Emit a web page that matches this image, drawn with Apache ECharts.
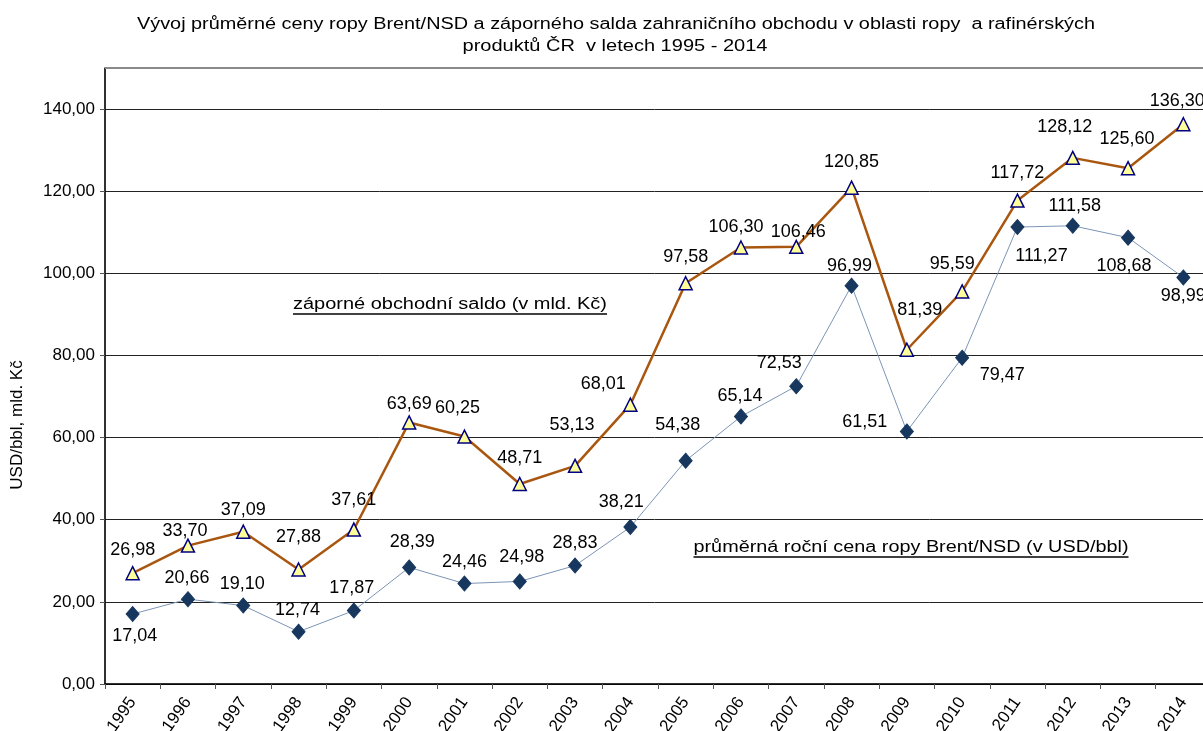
<!DOCTYPE html>
<html>
<head>
<meta charset="utf-8">
<script src="https://cdn.jsdelivr.net/npm/echarts@6/dist/echarts.min.js"></script>
<style>
	html, body { margin: 0; padding: 0; background: #fff; }
	#chart { width: 1203px; height: 731px; }
</style>
</head>
<body>
<div id="chart"></div>
<script>
	var years = ['1995', '1996', '1997', '1998', '1999', '2000', '2001', '2002', '2003', '2004',
		'2005', '2006', '2007', '2008', '2009', '2010', '2011', '2012', '2013', '2014'];
	// záporné obchodní saldo (mld. Kč)
	var saldo = [26.98, 33.70, 37.09, 27.88, 37.61, 63.69, 60.25, 48.71, 53.13, 68.01,
		97.58, 106.30, 106.46, 120.85, 81.39, 95.59, 117.72, 128.12, 125.60, 136.30];
	// průměrná roční cena ropy Brent (USD/bbl)
	var brent = [17.04, 20.66, 19.10, 12.74, 17.87, 28.39, 24.46, 24.98, 28.83, 38.21,
		54.38, 65.14, 72.53, 96.99, 61.51, 79.47, 111.27, 111.58, 108.68, 98.99];

	// posuny popisků (ručně umístěné jako v Excelu)
	var saldoLabelOffsets = [[0, -23], [-3, -15], [0, -22], [0, -32], [0, -30], [0, -18], [-7, -29], [0, -26], [-3, -41], [-27, -21],
		[0, -26], [-5, -20], [2, -15], [0, -26], [13, -40], [-10, -27], [0, -28], [-8, -31], [-1, -29], [-6, -23]];
	var brentLabelOffsets = [[2, 22], [-1, -21], [-1, -22], [-1, -22], [-2, -23], [3, -25], [0, -22], [2, -24], [0, -23], [-9, -25],
		[-8, -36], [-1, -20], [-17, -23], [-2, -20], [-42, -9], [40, 17], [24, 29], [2, -20], [-4, 28], [0, 19]];

	var FONT = 'Liberation Sans, Arial, sans-serif';

	function fmt(v) {
		return v.toFixed(2).replace('.', ',');
	}

	function withLabels(values, offsets) {
		return values.map(function (v, i) {
			return { value: v, label: { offset: offsets[i] } };
		});
	}

	function textWidth(text, size) {
		var ctx = document.createElement('canvas').getContext('2d');
		ctx.font = size + 'px ' + FONT;
		return ctx.measureText(text).width;
	}

	// text roztažený na šířku w, střed v (cx, cy)
	function stretched(text, cx, cy, size, w, underline) {
		var sx = w / textWidth(text, size);
		var els = [{
			type: 'text',
			x: cx,
			y: cy,
			scaleX: sx,
			z: 10,
			style: { text: text, font: size + 'px ' + FONT, fill: '#000', align: 'center', verticalAlign: 'middle' }
		}];
		if (underline) {
			els.push({
				type: 'line',
				z: 10,
				shape: { x1: cx - w / 2, y1: cy + size / 2 + 1, x2: cx + w / 2, y2: cy + size / 2 + 1 },
				style: { stroke: '#000', lineWidth: 1.5 }
			});
		}
		return els;
	}

	var chart = echarts.init(document.getElementById('chart'));

	var option = {
		animation: false,
		textStyle: { fontFamily: FONT },
		grid: {
			left: 105,
			top: 68,
			bottom: 47,
			width: 1106,
			outerBoundsMode: 'none',
			containLabel: false,
			show: true,
			borderColor: '#888',
			borderWidth: 1
		},
		graphic: [{
			type: 'text',
			rotation: Math.PI / 2,
			x: 9,
			y: 425,
			style: { text: 'USD/bbl, mld. Kč', font: '17px ' + FONT, fill: '#000', align: 'center', verticalAlign: 'top' }
		}, {
			// horní okraj plochy grafu je šedý
			type: 'line',
			z: 10,
			shape: { x1: 105, y1: 68, x2: 1203, y2: 68 },
			style: { stroke: '#8a8a8a', lineWidth: 2 }
		}].concat(
			stretched('Vývoj průměrné ceny ropy Brent/NSD a záporného salda zahraničního obchodu v oblasti ropy  a rafinérských', 616, 25, 16, 958, false),
			stretched('produktů ČR  v letech 1995 - 2014', 615, 47, 16, 305, false),
			stretched('záporné obchodní saldo (v mld. Kč)', 450, 305, 16, 314, true),
			stretched('průměrná roční cena ropy Brent/NSD (v USD/bbl)', 911, 548, 16, 435, true)
		),
		xAxis: {
			type: 'category',
			data: years,
			boundaryGap: true,
			axisLine: { lineStyle: { color: '#000', width: 1.5 } },
			axisTick: { show: true, length: 5, lineStyle: { color: '#555' } },
			axisLabel: { rotate: 55, fontSize: 17, color: '#000', margin: 15, interval: 0 }
		},
		yAxis: {
			type: 'value',
			min: 0,
			max: 150,
			interval: 20,
			axisLine: { show: true, lineStyle: { color: '#000', width: 1.5 } },
			axisTick: { show: true, length: 5, lineStyle: { color: '#555' } },
			axisLabel: {
				fontSize: 17, color: '#000', margin: 10, showMaxLabel: false,
				formatter: function (v) { return v > 140 ? '' : fmt(v); }
			},
			splitLine: { show: true, lineStyle: { color: '#222', width: 1 } }
		},
		series: [{
			name: 'záporné obchodní saldo',
			type: 'line',
			data: withLabels(saldo, saldoLabelOffsets),
			symbol: 'triangle',
			symbolSize: 13,
			z: 3,
			lineStyle: { color: '#A9560F', width: 2.5 },
			itemStyle: { color: '#FFFF99', borderColor: '#000080', borderWidth: 1.5 },
			label: {
				show: true,
				position: 'inside',
				fontSize: 18,
				color: '#000',
				formatter: function (p) { return fmt(p.value); }
			}
		}, {
			name: 'průměrná roční cena ropy Brent/NSD',
			type: 'line',
			data: withLabels(brent, brentLabelOffsets),
			symbol: 'diamond',
			symbolSize: [13, 15],
			z: 2,
			lineStyle: { color: '#7C95B5', width: 1 },
			itemStyle: { color: '#17375E', borderColor: '#17375E' },
			label: {
				show: true,
				position: 'inside',
				fontSize: 18,
				color: '#000',
				formatter: function (p) { return fmt(p.value); }
			}
		}]
	};

	chart.setOption(option);
</script>
</body>
</html>
